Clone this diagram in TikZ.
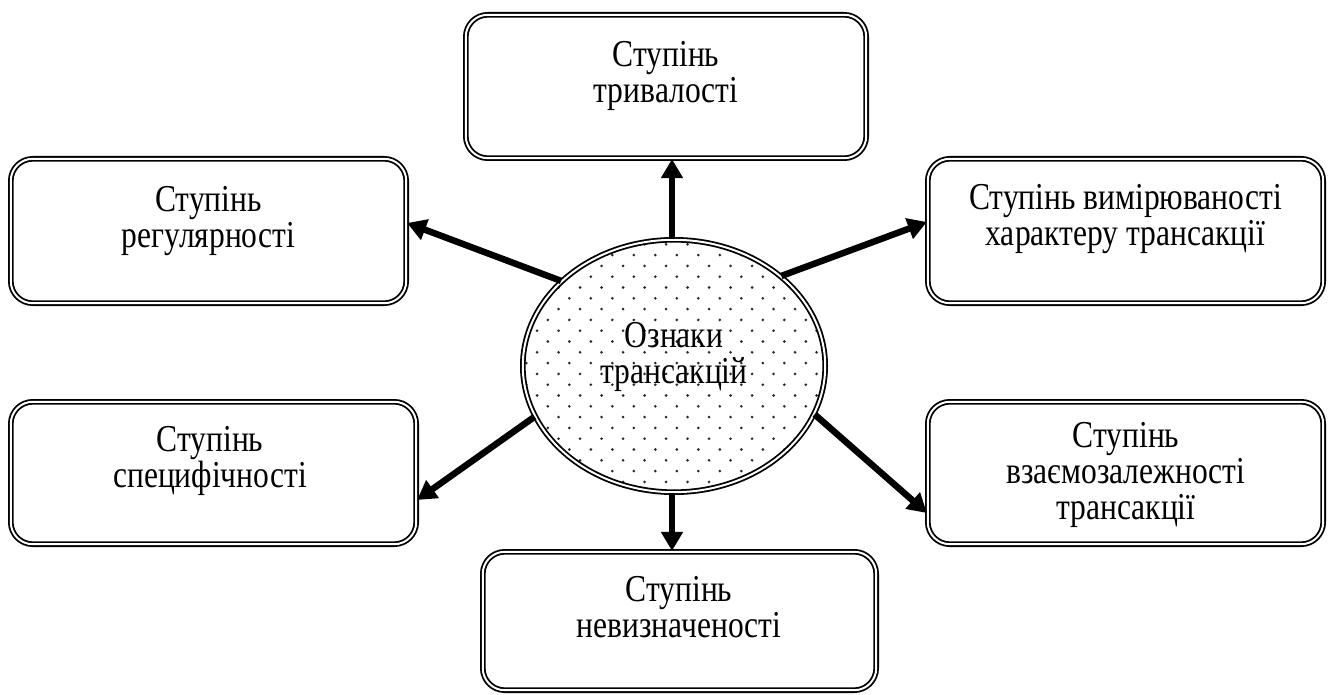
\documentclass[tikz,border=0pt]{standalone}
\usepackage{fontspec}
\setmainfont{Liberation Serif}
\newfontfamily\lblfont[FakeStretch=0.83]{Liberation Serif}
\usetikzlibrary{arrows.meta,shapes.geometric}

\begin{document}
\begin{tikzpicture}[x=1pt,y=-1pt,
  box/.style={rectangle, draw=black, double=white, double distance=2pt,
    line width=1.8pt, rounded corners=22pt, inner sep=0pt},
  oval/.style={ellipse, draw=black, double=white, double distance=2pt,
    line width=1.8pt, inner sep=0pt, fill=white},
  lbl/.style={anchor=north, align=center, inner sep=0pt,
    font=\lblfont\fontsize{38}{36}\selectfont},
  arr/.style={line width=6.5pt, -{Triangle[length=19pt,width=21pt]}},
  dot/.style={fill=black!85},
]
\useasboundingbox (0,0) rectangle (1330,695);

% outer boxes
\node[box, minimum width=400.4pt, minimum height=143.4pt] (top) at (666,86.5) {};
\node[box, minimum width=395.4pt, minimum height=144.4pt] (ul)  at (208.5,231) {};
\node[box, minimum width=395.4pt, minimum height=144.4pt] (ur)  at (1125.5,231) {};
\node[box, minimum width=405.4pt, minimum height=142.4pt] (ll)  at (213.5,473) {};
\node[box, minimum width=395.4pt, minimum height=142.4pt] (lr)  at (1125.5,473) {};
\node[box, minimum width=393.4pt, minimum height=138.4pt] (bot) at (679.5,621) {};

% central ellipse with a staggered dot fill (dot positions relative to its centre)
\node[oval, minimum width=302.4pt, minimum height=252.4pt,
  path picture={
    \foreach \j in {0,...,25} {
      \pgfmathsetmacro\off{mod(\j,2)*10.75}
      \foreach \i in {0,...,15} {
        \fill[dot] (-169.2+\off+21.5*\i, -132.5+10.8*\j) circle (1.45pt);
      }
    }
  }] (ell) at (674,366) {};

% labels
\node[lbl] (topT) at (666,41)     {Ступінь\\тривалості};
\node[lbl] (ulT)  at (208.5,186)  {Ступінь\\регулярності};
\node[lbl] (urT)  at (1125.5,184) {Ступінь вимірюваності\\характеру трансакції};
\node[lbl] (llT)  at (210,426.5)  {Ступінь\\специфічності};
\node[lbl] (lrT)  at (1126,422)   {Ступінь\\взаємозалежності\\трансакції};
\node[lbl] (botT) at (679,576)    {Ступінь\\невизначеності};
\node[lbl] (ellT) at (674,322)    {Ознаки\\трансакцій};

% connectors
\draw[arr] ([xshift=-2pt]ell.north) -- ([xshift=-2pt]ell.north |- top.south);
\draw[arr] ([xshift=-2pt]ell.south) -- ([xshift=-2pt]ell.south |- bot.north);
\draw[arr] (ell.143) -- ([yshift=8pt]ul.east);
\draw[arr] (ell.40)  -- ([yshift=9pt]ur.west);
\draw[arr] (ell.200) -- ([yshift=-27pt]ll.east);
\draw[arr] (ell.341) -- ([yshift=-40pt]lr.west);
\end{tikzpicture}
\end{document}
